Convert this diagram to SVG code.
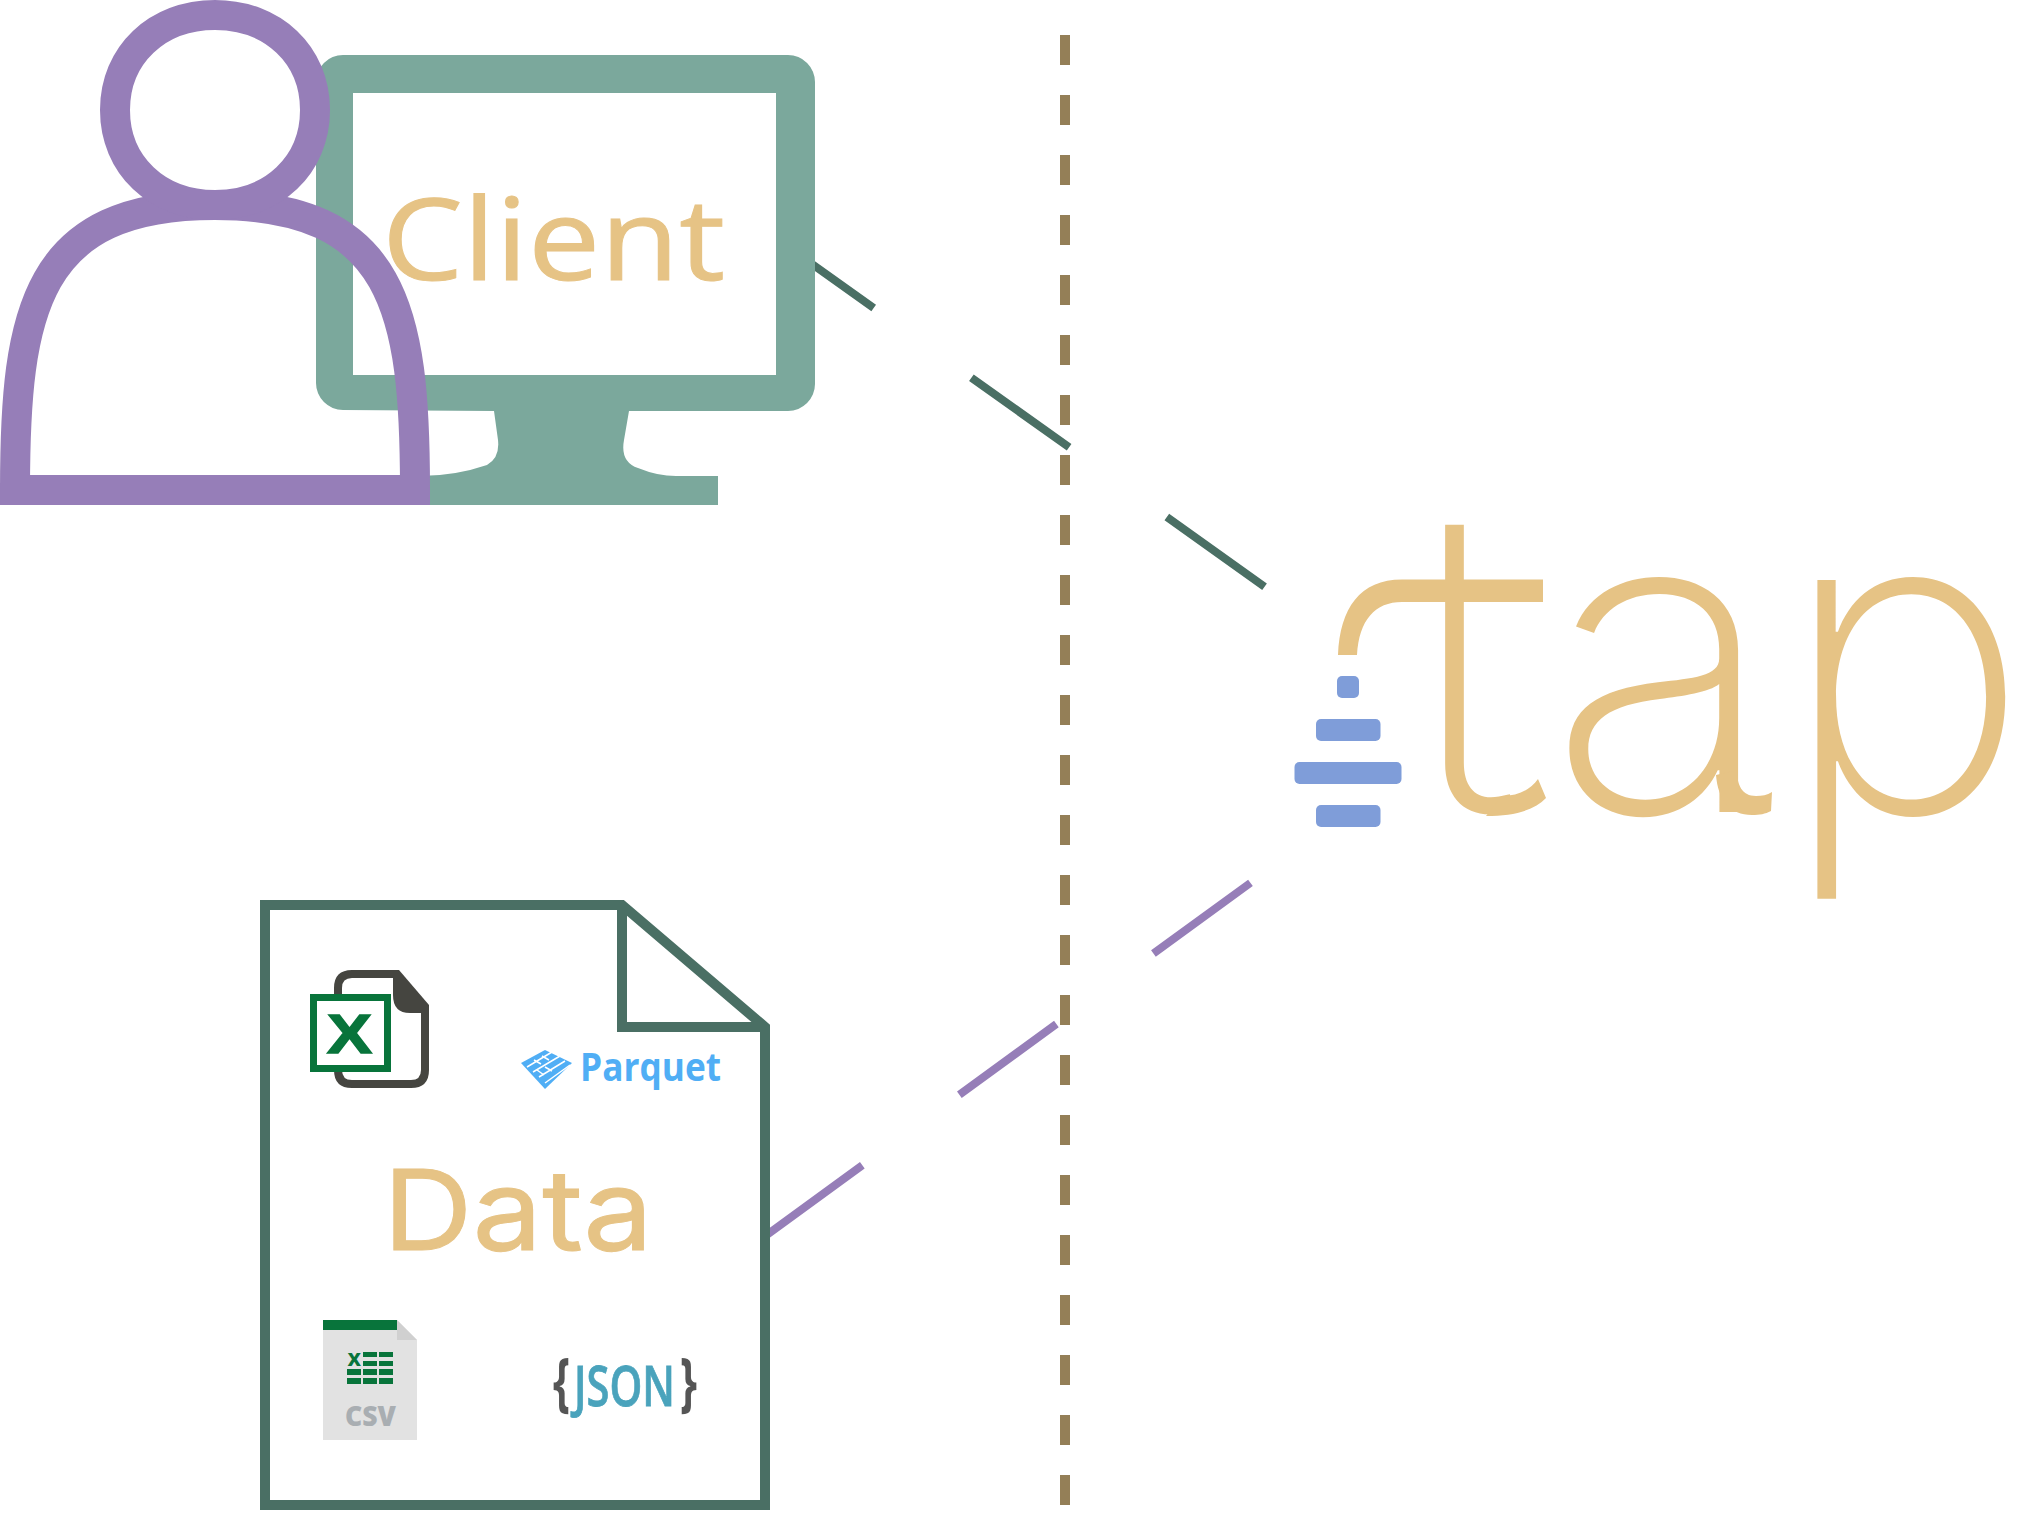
<svg xmlns="http://www.w3.org/2000/svg" width="2040" height="1520" viewBox="0 0 2040 1520">
<style>
.tan{fill:#E6C385}
.blue{fill:#7F9DD9}
.dk{fill:none;stroke:#4A6F64;stroke-width:10}
.pr{fill:none;stroke:#967EB8;stroke-width:30}
.g{fill:#08743B}
.c{stroke-width:8;fill:none;stroke-dasharray:120 120}
text{font-family:"Open Sans","Liberation Sans",sans-serif}
.in{font-family:Inter,"Liberation Sans",sans-serif}
</style>
<rect width="2040" height="1520" fill="#fff"/>
<g id="connectors">
<line stroke="#947F57" stroke-width="10" x1="1065" y1="35" x2="1065" y2="1505" stroke-dasharray="30 30"/>
<line class="c" stroke="#4A6F64" x1="800" y1="255.500" x2="1265" y2="587" stroke-dashoffset="29.500"/>
<line class="c" stroke="#967EB8" x1="765.300" y1="1235.900" x2="1250.700" y2="882.700"/>
</g>
<g id="client-monitor">
<path fill="#7BA89C" d="M343,55H788A27,27 0 0 1 815,82V384A27,27 0 0 1 788,411H629L624,440Q620,462 638,468Q660,477 680,476H718V505H420V476Q455,476 487,465Q500,458 498,440L494,411L343,410A27,27 0 0 1 316,383V82A27,27 0 0 1 343,55ZM353,93V375H776V93Z" fill-rule="evenodd"/>
<text class="tan" x="382" y="280" font-size="114" textLength="343" lengthAdjust="spacingAndGlyphs" stroke="#E6C385" stroke-width="1">Client</text>
</g>
<g id="client-person">
<path class="pr" d="M15,490C15,310 35,205 215,205C395,205 415,310 415,490Z"/>
<path class="pr" d="M115,110C115,55 157,15 215,15C273,15 315,55 315,110C315,165 273,205 215,205C157,205 115,165 115,110Z"/>
</g>
<g id="tap">
<text class="tan in" font-size="425" font-weight="220" x="1408 1548 1779" y="812">tap</text>
<path class="tan" d="M1338,655C1340,608 1360,579.500 1402,579.500H1543V602H1402C1375,602 1359,620 1357,655Z"/>
<path class="tan" d="M1486,816C1515,816 1535,810 1546,798L1538,779C1530,790 1518,796 1502,796Z"/>
<path class="tan" d="M1737,770C1737,785 1742,796 1756,796C1762,796 1767,795 1772,792L1771,811C1765,814 1760,815 1752,815C1730,815 1718,800 1716,775Z"/>
<rect class="blue" x="1337" y="676" width="22" height="22" rx="5"/>
<rect class="blue" x="1316" y="719" width="64.500" height="22" rx="5"/>
<rect class="blue" x="1294.500" y="762" width="107" height="22" rx="5"/>
<rect class="blue" x="1316" y="805" width="64.500" height="22" rx="5"/>
</g>
<g id="data">
<path class="dk" style="fill:#fff" d="M265,905H622L765,1027V1505H265Z"/>
<path class="dk" d="M622,905V1027H765"/>
<text class="tan in" x="383" y="1250" font-size="112" textLength="270" lengthAdjust="spacingAndGlyphs" stroke="#E6C385" stroke-width="1">Data</text>
<g id="excel-icon">
<path d="M399,974H352Q338,974 338,988V1070Q338,1084 352,1084H411Q425,1084 425,1070V1006" fill="none" stroke="#454540" stroke-width="8"/>
<path d="M393,970H399L429,1005V1013H410Q393,1013 393,995Z" fill="#454540"/>
<rect x="313.500" y="997.500" width="74" height="71" fill="#fff" stroke="#08743B" stroke-width="7"/>
<text class="g" x="327" y="1053" font-size="56" font-weight="700" textLength="45" lengthAdjust="spacingAndGlyphs" stroke="#08743B" stroke-width="1.500" style="font-family:'Liberation Sans',sans-serif">X</text>
</g>
<g id="parquet-icon">
<path fill="#50AEF5" d="M521,1063L545,1050L572,1063L545,1089Z"/>
<path stroke="#fff" stroke-width="1.500" fill="none" d="M527,1067L552,1052M533,1072L560,1056M539,1077L565,1061M545,1083L570,1065M534,1060L541,1064M542,1056L549,1060M545,1067L552,1071M537,1070L544,1075"/>
<text x="580" y="1081" font-size="39" font-weight="700" fill="#50AEF5" textLength="141" lengthAdjust="spacingAndGlyphs">Parquet</text>
</g>
<g id="csv-icon">
<path fill="#E2E2E2" d="M323,1320H397L417,1340V1440H323Z"/>
<rect class="g" x="323" y="1320" width="74" height="10"/>
<path fill="#D0D0D0" d="M397,1320L417,1340H397Z"/>
<path class="g" d="M363,1352h14v5h-14zM379,1352h14v5h-14zM363,1361h14v5h-14zM379,1361h14v5h-14zM347,1369h14v6h-14zM363,1369h14v6h-14zM379,1369h14v6h-14zM347,1378h14v6h-14zM363,1378h14v6h-14zM379,1378h14v6h-14z"/>
<text class="g" x="347.500" y="1366" font-size="24" font-weight="700" textLength="13.500" lengthAdjust="spacingAndGlyphs">x</text>
<text x="345" y="1426" font-size="28" font-weight="800" fill="#A9AEB2" textLength="51" lengthAdjust="spacingAndGlyphs">CSV</text>
</g>
<g id="json-icon">
<text x="553" y="1404" font-size="64" font-weight="700" fill="#555" textLength="17" lengthAdjust="spacingAndGlyphs">{</text>
<text x="574" y="1406" font-size="56" font-weight="600" fill="#4AA3BC" stroke="#4AA3BC" stroke-width="0.800" textLength="101" lengthAdjust="spacingAndGlyphs">JSON</text>
<text x="680" y="1404" font-size="64" font-weight="700" fill="#555" textLength="17" lengthAdjust="spacingAndGlyphs">}</text>
</g>
</g>
</svg>
